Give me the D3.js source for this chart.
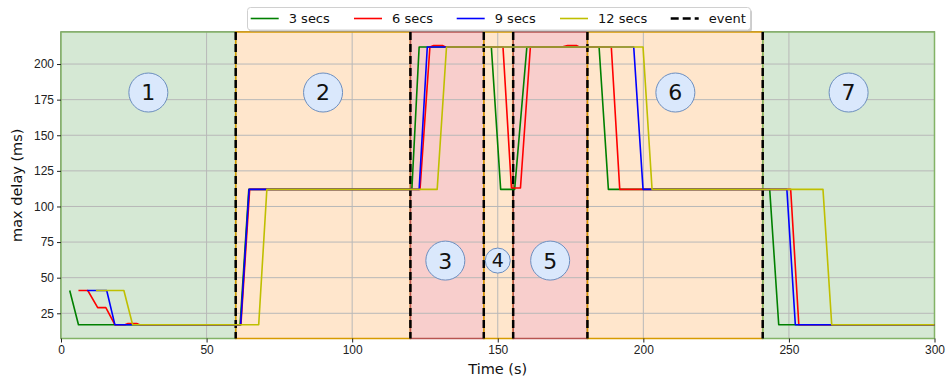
<!DOCTYPE html>
<html>
<head>
<meta charset="utf-8">
<script src="https://cdnjs.cloudflare.com/ajax/libs/d3/7.8.5/d3.min.js"></script>
<style>
  body { margin: 0; background: #fff; }
  svg { display: block; font-family: "DejaVu Sans", sans-serif; }
  .axis text { font-size: 12px; fill: #222; }
  .axis line { stroke: #222; }
  .axis .domain { display: none; }
</style>
</head>
<body>
<div id="chart"></div>
<script>
// series (time in s, max delay in ms)
var time3 = [3, 6, 61.5, 64.5, 120.5, 123, 147.8, 151, 155.8, 160, 184.8, 188, 243.4, 246.5, 300];
var delay3 = [41, 17, 17, 112, 112, 212, 212, 112, 112, 212, 212, 112, 112, 17, 17];

var time6 = [6, 9.2, 12.6, 15.4, 18.5, 22, 23, 26, 27, 61.8, 64.8, 123.3, 126.7, 128, 131, 132, 151.8, 154.7, 157.8, 161.2, 172, 174, 177, 178, 189, 191.9, 250.6, 253.4, 300];
var delay6 = [41, 41, 29, 29, 17, 17, 17.8, 17.8, 17, 17, 112, 112, 212, 213, 213, 212, 212, 113, 113, 212, 212, 213, 213, 212, 212, 112, 112, 17, 17];

var time9 = [9, 15.7, 18.5, 61.7, 64.6, 123, 125.8, 196.7, 199.9, 249.3, 252.2, 300];
var delay9 = [41, 41, 17, 17, 112, 112, 212, 212, 112, 112, 17, 17];

var time12 = [12, 21.6, 24.6, 67.9, 70.7, 129.2, 132.4, 199.9, 203, 261.7, 264.7, 300];
var delay12 = [41, 41, 17, 17, 112, 112, 212, 212, 112, 112, 17, 17];

var seriesNames = ['3 secs', '6 secs', '9 secs', '12 secs'];
var seriesColors = ['#008000', '#ff0000', '#0000ff', '#bfbf00'];

var events = [60, 120, 145.2, 155.3, 180.8, 241];
var phaseBounds = [0, 60, 120, 145.2, 155.3, 180.8, 241, 300];
var phaseKinds = ['calm', 'busy', 'peak', 'busy', 'peak', 'busy', 'calm'];

var phaseLabels = ['1', '2', '3', '4', '5', '6', '7'];
var labelTime = [30, 90, 132, 150, 168, 211, 270.5];
var labelDelay = [180, 180, 62, 62, 62, 180, 180];

var xTicks = [0, 50, 100, 150, 200, 250, 300];
var yTicks = [25, 50, 75, 100, 125, 150, 175, 200];

(function draw() {

  var W = 949, H = 380;
  var margin = { top: 32, right: 14.5, bottom: 41.5, left: 61 };
  var width = W - margin.left - margin.right;
  var height = H - margin.top - margin.bottom;

  var kindFill = { calm: '#d5e8d4', busy: '#ffe6cc', peak: '#f8cecc' };
  var kindEdge = { calm: '#82b366', busy: '#d79b00', peak: '#b85450' };

  var x = d3.scaleLinear().domain([0, 300]).range([0, width]);
  var y = d3.scaleLinear().domain([7.3, 222.5]).range([height, 0]);

  var svg = d3.select('#chart')
    .append('svg')
      .attr('width', W)
      .attr('height', H);

  var plot = svg.append('g')
      .attr('transform', 'translate(' + margin.left + ',' + margin.top + ')');

  var phases = phaseKinds.map(function (k, i) {
    return { kind: k, x0: phaseBounds[i], x1: phaseBounds[i + 1] };
  });

  plot.append('rect')
      .attr('width', width)
      .attr('height', height)
      .attr('fill', 'none')
      .attr('stroke', '#333')
      .attr('stroke-width', 1);

  plot.append('g')
    .selectAll('rect')
      .data(phases)
      .enter()
    .append('rect')
      .attr('x', function (d) { return x(d.x0); })
      .attr('width', function (d) { return x(d.x1) - x(d.x0); })
      .attr('y', 0)
      .attr('height', height)
      .attr('fill', function (d) { return kindFill[d.kind]; });

  // grid
  plot.append('g')
    .selectAll('line')
      .data(xTicks.slice(1, -1))
      .enter()
    .append('line')
      .attr('x1', function (d) { return x(d); })
      .attr('x2', function (d) { return x(d); })
      .attr('y1', 0)
      .attr('y2', height)
      .attr('stroke', '#b8b8b8')
      .attr('stroke-width', 1);

  plot.append('g')
    .selectAll('line')
      .data(yTicks)
      .enter()
    .append('line')
      .attr('x1', 0)
      .attr('x2', width)
      .attr('y1', function (d) { return y(d); })
      .attr('y2', function (d) { return y(d); })
      .attr('stroke', '#b8b8b8')
      .attr('stroke-width', 1);

  // span edges
  plot.append('g')
    .selectAll('rect')
      .data(phases)
      .enter()
    .append('rect')
      .attr('x', function (d) { return x(d.x0); })
      .attr('width', function (d) { return x(d.x1) - x(d.x0); })
      .attr('y', 0)
      .attr('height', height)
      .attr('fill', 'none')
      .attr('stroke', function (d) { return kindEdge[d.kind]; })
      .attr('stroke-width', 1.5);

  plot.append('g')
    .selectAll('line')
      .data(events)
      .enter()
    .append('line')
      .attr('x1', function (d) { return x(d); })
      .attr('x2', function (d) { return x(d); })
      .attr('y1', 0)
      .attr('y2', height)
      .attr('stroke', '#000')
      .attr('stroke-width', 2.5)
      .attr('stroke-dasharray', '8,4');

  var allTimes = [time3, time6, time9, time12];
  var allDelays = [delay3, delay6, delay9, delay12];

  var series = seriesNames.map(function (name, i) {
    return {
      name: name,
      color: seriesColors[i],
      points: allTimes[i].map(function (t, j) { return [t, allDelays[i][j]]; })
    };
  });

  var line = d3.line()
      .x(function (d) { return x(d[0]); })
      .y(function (d) { return y(d[1]); });

  plot.append('g')
    .selectAll('path')
      .data(series)
      .enter()
    .append('path')
      .attr('d', function (d) { return line(d.points); })
      .attr('fill', 'none')
      .attr('stroke', function (d) { return d.color; })
      .attr('stroke-width', 1.6)
      .attr('stroke-linejoin', 'round');

  var labels = plot.append('g')
    .selectAll('g')
      .data(phaseLabels)
      .enter()
    .append('g')
      .attr('transform', function (d, i) {
        return 'translate(' + x(labelTime[i]) + ',' + y(labelDelay[i]) + ')';
      });

  labels.append('circle')
      .attr('r', function (d) { return d === '4' ? 12.5 : 19.5; })
      .attr('fill', '#dae8fc')
      .attr('stroke', '#6c8ebf')
      .attr('stroke-width', 1);

  labels.append('text')
      .attr('text-anchor', 'middle')
      .attr('dy', '0.36em')
      .style('font-size', function (d) { return d === '4' ? '19px' : '22px'; })
      .attr('fill', '#111')
      .text(function (d) { return d; });

  // axes
  plot.append('g')
      .attr('class', 'axis')
      .attr('transform', 'translate(0,' + height + ')')
      .call(d3.axisBottom(x).tickValues(xTicks).tickSize(4).tickPadding(3));

  plot.append('g')
      .attr('class', 'axis')
      .call(d3.axisLeft(y).tickValues(yTicks).tickSize(4).tickPadding(3));

  svg.append('text')
      .attr('x', margin.left + width / 2)
      .attr('y', 374)
      .attr('text-anchor', 'middle')
      .style('font-size', '14.5px')
      .attr('fill', '#111')
      .text('Time (s)');

  svg.append('text')
      .attr('transform', 'translate(22,' + (margin.top + height / 2) + ') rotate(-90)')
      .attr('text-anchor', 'middle')
      .style('font-size', '14.5px')
      .attr('fill', '#111')
      .text('max delay (ms)');

  // legend
  var legendItems = series.map(function (s) { return { name: s.name, color: s.color, dash: null }; })
      .concat([{ name: 'event', color: '#000', dash: '8,4' }]);
  var itemX = [250.7, 354, 456.7, 560, 670.7];

  var legend = svg.append('g');

  legend.append('rect')
      .attr('x', 249)
      .attr('y', 9.5)
      .attr('width', 503)
      .attr('height', 22.5)
      .attr('rx', 3)
      .attr('fill', '#999')
      .attr('opacity', 0.5);

  legend.append('rect')
      .attr('x', 247.5)
      .attr('y', 7.5)
      .attr('width', 503)
      .attr('height', 22.5)
      .attr('rx', 3)
      .attr('fill', '#fff')
      .attr('stroke', '#d0d0d0');

  var item = legend.selectAll('g.item')
      .data(legendItems)
      .enter()
    .append('g')
      .attr('class', 'item')
      .attr('transform', function (d, i) { return 'translate(' + itemX[i] + ',18.5)'; });

  item.append('line')
      .attr('x1', 0)
      .attr('x2', 28)
      .attr('stroke', function (d) { return d.color; })
      .attr('stroke-width', function (d) { return d.dash ? 2.5 : 1.6; })
      .attr('stroke-dasharray', function (d) { return d.dash; });

  item.append('text')
      .attr('x', 38)
      .attr('dy', '0.35em')
      .style('font-size', '13px')
      .attr('fill', '#111')
      .text(function (d) { return d.name; });
})();
</script>
</body>
</html>
